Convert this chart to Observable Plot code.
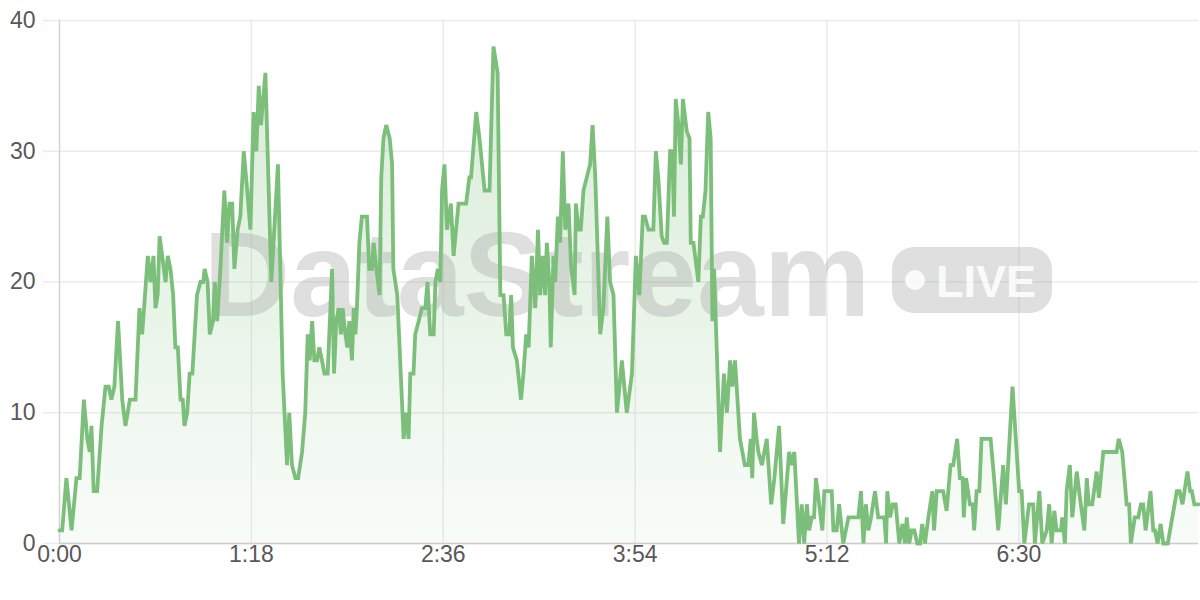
<!DOCTYPE html>
<html><head><meta charset="utf-8">
<script src="https://cdn.jsdelivr.net/npm/d3@7"></script>
<script src="https://cdn.jsdelivr.net/npm/@observablehq/plot@0.6"></script>
<style>
html,body{margin:0;padding:0;background:#fff;}
#chart{width:1200px;height:600px;}
</style></head><body><div id="chart"></div>
<script>
// elapsed time (seconds) of each reading
const seconds = [
  0,1.1,2.8,4.9,6.9,8.2,9.9,11.3,12.3,13.0,
  13.9,15.3,17.1,18.7,20.0,21.1,22.3,23.8,25.5,26.8,
  28.6,30.9,32.5,33.6,35.9,37.0,38.2,39.0,39.9,40.7,
  43.1,44.0,45.1,46.2,47.1,48.1,49.2,50.1,50.8,51.9,
  52.9,54.0,55.9,57.3,58.4,59.0,60.2,61.1,62.4,63.1,
  64.1,65.4,67.0,68.1,69.1,70.2,71.1,72.4,73.5,74.9,
  76.3,77.6,78.9,80.0,81.0,81.9,83.7,86.1,88.8,90.7,
  92.5,93.4,94.5,95.9,97.0,98.6,99.9,100.9,101.7,102.7,
  103.6,104.7,105.6,106.7,107.7,109.0,110.8,111.6,112.5,113.5,
  114.4,115.1,116.2,117.0,117.8,118.9,119.6,120.3,120.9,121.9,
  122.9,125.0,125.9,127.0,127.7,128.8,130.1,130.8,131.7,132.8,
  134.2,135.2,135.7,136.5,137.3,139.9,140.8,141.9,142.6,143.9,
  144.6,146.0,147.3,148.7,149.6,150.7,152.1,152.8,153.8,154.8,
  155.5,156.5,157.5,159.1,160.2,162.2,165.3,166.6,167.3,169.4,
  170.7,172.8,174.8,176.4,178.1,179.2,180.5,181.6,182.8,183.6,
  184.3,185.9,187.6,188.6,189.7,190.7,192.0,193.4,194.5,195.4,
  196.5,197.4,198.1,199.1,199.7,200.8,201.5,202.6,203.5,204.6,
  205.6,206.9,208.0,209.4,209.9,211.0,211.9,213.0,215.0,215.7,
  216.7,217.8,219.8,221.1,222.7,223.8,225.2,226.6,228.6,230.6,
  232.7,234.3,235.7,237.1,238.0,239.4,241.4,242.4,243.4,244.8,
  245.8,246.9,248.2,249.1,249.8,250.5,251.6,252.6,253.4,255.0,
  256.1,256.6,257.7,259.7,260.7,261.5,262.6,263.7,264.7,265.4,
  266.1,268.5,270.1,271.3,272.6,273.5,274.6,276.6,278.6,280.0,
  281.0,281.6,282.3,283.4,284.1,285.5,287.5,289.3,290.6,292.5,
  294.2,296.6,297.7,298.7,300.6,301.7,302.7,303.8,304.7,305.8,
  306.7,307.5,308.5,310.1,310.9,313.9,314.6,315.9,316.9,318.6,
  320.7,324.7,325.8,326.8,327.8,328.8,329.9,331.5,332.8,335.3,
  336.0,336.5,337.6,338.7,339.9,341.4,342.7,343.7,344.4,345.4,
  346.4,347.5,348.7,349.8,350.7,351.8,353.2,354.8,355.5,356.6,
  359.2,360.6,362.2,363.3,364.9,366.0,367.1,367.6,368.5,370.1,
  371.2,371.8,372.8,373.9,374.8,378.5,379.9,381.6,383.6,384.7,
  387.4,390.1,391.1,392.2,394.1,395.8,396.5,398.3,399.5,401.3,
  402.3,403.3,404.4,405.3,407.1,407.6,408.7,409.4,410.7,411.7,
  413.5,414.8,416.6,417.6,418.4,419.8,421.6,422.5,424.3,429.7,
  430.6,432.0,433.8,434.8,435.5,437.1,438.5,439.6,440.5,441.5,
  443.5,444.6,445.3,446.4,447.6,448.7,450.5,454.2,455.3,456.5,
  458.5,459.6,460.3,461.3,463.0
];
// stream value at each reading
const values = [
  1,1,5,1,5,5,11,8,7,9,
  4,4,9,12,12,11,12,17,11,9,
  11,11,18,16,22,20,22,18,19,23.5,
  20,22,21,19,15,15,11,11,9,10,
  13,13,19,20,20,21,20,16,17,20,
  17,21,27,23,26,26,21,24,25,30,
  27,24,33,30,35,32,36,20,29,13,
  6,10,6,5,5,7,10,16,14,17,
  14,14,15,14,13,13,21,13,17,18,
  16,18,16,15,17,14,18,16,18,23,
  25,25,21,21,23,21,19,28,31,32,
  31,29,21,20,19,8,10,8,13,13,
  16,17,18,18,20,16,16,20,21,20,
  27,29,24,26,22,26,26,28,28,33,
  31,27,27,38,36,19,19,16,16,19,
  15,14,11,13,16,15,22,18,24,19,
  22,19,23,20,15,22,20,25,23,30,
  24,26,21,19,26,24,24,27,28.5,29,
  32,28,16,18,25,20,19,10,14,10,
  13,22,19,25,25,24,24,30,28,23.5,
  23,23,30,30,25,34,32,29,34,31.5,
  31,23,23,20,25,25,27,33,31,17,
  21,7,13,10,14,12,14,8,6,6,
  8,5,10,8,7,6,8,3,5,9,
  1.5,7,6,7,0,3,0,3,1,2,
  2,5,3.5,1,4,4,1,1,3,0,
  2,2,4,0,3,1,2,4,2,2,
  0,4,2,3,3,0,1.5,0,2,0,
  1,1,0,0,1.5,0,2,4,1,4,
  4,2.5,6,6,8,5,5,2,5,3,
  3,1,4,4,8,8,5,1,6,3,
  12,4,4,0,3,3,0,4,0,1,
  3,0,2.5,1,1,2,0,4,6,2,
  5.5,3.5,1,5,3,3,5.5,3.5,7,7,
  8,7,3,3,0,2,2,3,3,1,
  4,1,1,0,1.5,0,0,4,4,3,
  5.5,4,4,3,3
];
const yTicks = [0, 10, 20, 30, 40];
const xTicks = [0, 78, 156, 234, 312, 390];
const xTickLabels = ["0:00", "1:18", "2:36", "3:54", "5:12", "6:30"];
const watermarkText = "DataStream";
const badgeText = "LIVE";

const data = seconds.map((t, i) => ({t, v: values[i]}));

const font = "'Liberation Sans', Arial, Helvetica, sans-serif";
const plot = Plot.plot({
  width: 1200, height: 600,
  marginLeft: 59, marginRight: 2, marginTop: 20, marginBottom: 57,
  style: {fontFamily: font, background: "#fff", overflow: "visible"},
  x: {domain: [0, 463], label: null},
  y: {domain: [0, 40], label: null},
  marks: [
    Plot.gridY(yTicks, {stroke: "#ebebeb", strokeOpacity: 1, strokeWidth: 1.5}),
    Plot.gridX(xTicks.slice(1), {stroke: "#ebebeb", strokeOpacity: 1, strokeWidth: 1.5}),
    Plot.axisY(yTicks, {tickSize: 16, tickPadding: 8, stroke: "#ebebeb", strokeWidth: 1.5, fill: "#585858", fontSize: 23, label: null}),
    Plot.axisX(xTicks, {tickSize: 0, tickPadding: 2, fill: "#585858", fontSize: 23, label: null,
      tickFormat: d => xTickLabels[xTicks.indexOf(d)]}),
    Plot.areaY(data, {x: "t", y: "v", fill: "url(#streamFill)"}),
    Plot.ruleY([0], {stroke: "#cdcdcd", strokeWidth: 1.5}),
    Plot.ruleX([0], {stroke: "#d2d2d2", strokeWidth: 1.5}),
    Plot.lineY(data, {x: "t", y: "v", stroke: "#7cbf7b", strokeWidth: 3.8, strokeLinejoin: "miter", strokeMiterlimit: 4})
  ]
});

const svg = d3.select(plot);
const grad = svg.append("defs").append("linearGradient")
  .attr("id", "streamFill").attr("x1", 0).attr("y1", 0).attr("x2", 0).attr("y2", 1);
grad.append("stop").attr("offset", "0%").attr("stop-color", "#7cbf7b").attr("stop-opacity", 0.3);
grad.append("stop").attr("offset", "100%").attr("stop-color", "#7cbf7b").attr("stop-opacity", 0.05);

// watermark between the area and the line
const wm = d3.create("svg:g").attr("pointer-events", "none").style("font-family", font);
wm.append("text").attr("x", 537).attr("y", 316).attr("text-anchor", "middle")
  .attr("font-size", 120).attr("font-weight", 700).attr("fill", "#9a9a9a").attr("fill-opacity", 0.32)
  .text(watermarkText);
wm.append("rect").attr("x", 892).attr("y", 247).attr("width", 160).attr("height", 66).attr("rx", 22)
  .attr("fill", "#9a9a9a").attr("fill-opacity", 0.32);
wm.append("circle").attr("cx", 915).attr("cy", 280).attr("r", 10).attr("fill", "#fff").attr("fill-opacity", 0.85);
wm.append("text").attr("x", 936).attr("y", 297).attr("text-anchor", "start")
  .attr("font-size", 45).attr("font-weight", 700)
  .attr("fill", "#fff").attr("fill-opacity", 0.85).text(badgeText);
const lineNode = plot.querySelector('g[aria-label="line"]');
if (lineNode) lineNode.parentNode.insertBefore(wm.node(), lineNode); else plot.appendChild(wm.node());

document.getElementById("chart").appendChild(plot);
</script>
</body></html>
